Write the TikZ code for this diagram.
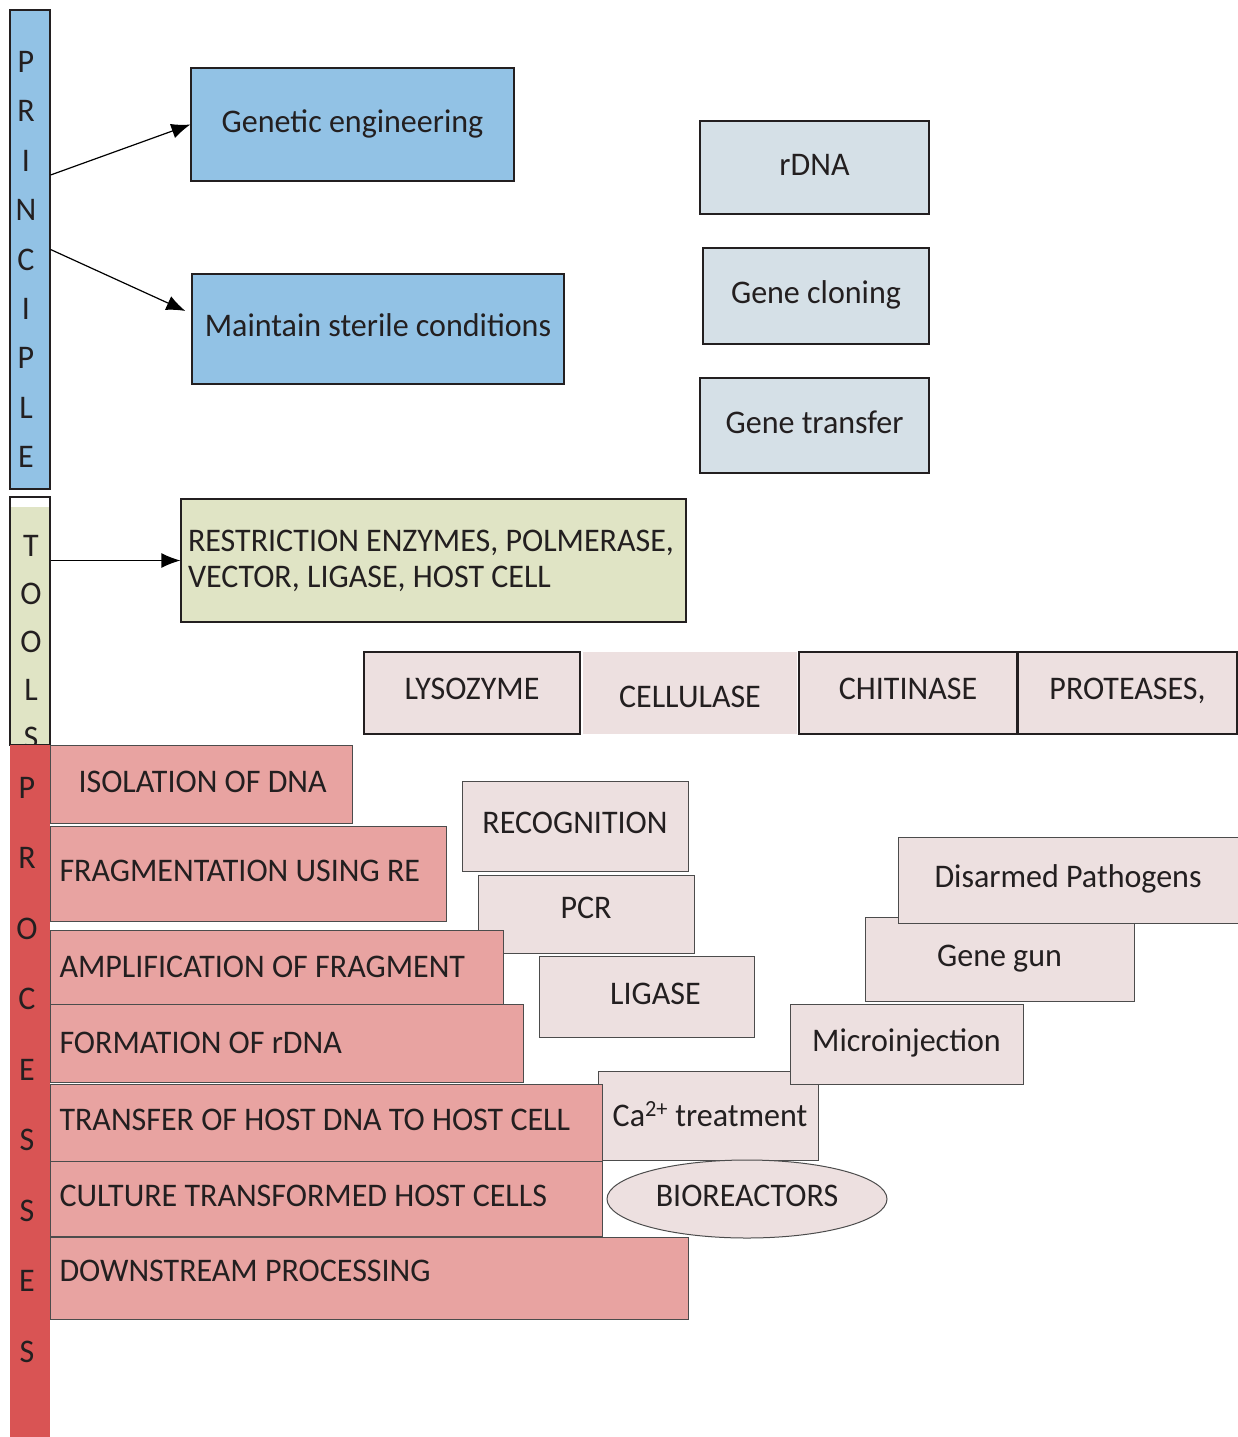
\documentclass[tikz,border=0pt]{standalone}
\usepackage{fontspec}
\setmainfont[FakeStretch=0.97]{Carlito}
\usetikzlibrary{arrows.meta,shapes.geometric}

\definecolor{princblue}{HTML}{92C2E5}
\definecolor{termgrey}{HTML}{D5E0E7}
\definecolor{toolgreen}{HTML}{E0E4C5}
\definecolor{enzpink}{HTML}{EDE0E0}
\definecolor{procsalmon}{HTML}{E8A3A1}
\definecolor{procred}{HTML}{D95454}
\definecolor{ink}{HTML}{231F20}

\newcommand\bodyfont{\fontsize{33}{36}\selectfont}
\newcommand\barfont[1]{\fontsize{33}{#1}\selectfont}

\begin{document}
\begin{tikzpicture}[
		x=1pt, y=-1pt,
		>={Latex[length=19pt,width=15pt]},
		every node/.append style={
			text=ink,
			font=\bodyfont,
			inner sep=0pt,
		},
		barlabel/.style={align=center},
		lifted/.style={text height=22pt, text depth=7pt},
		topbox/.style={lifted, draw=ink, line width=1.2pt, fill=princblue},
		termbox/.style={lifted, draw=ink, line width=1.2pt, fill=termgrey},
		enzbox/.style={text height=21pt, text depth=8pt, draw=ink, line width=1.6pt, fill=enzpink},
		methodbox/.style={lifted, draw=black!70, line width=1pt, fill=enzpink},
		procbox/.style={lifted, draw=black!70, line width=1pt, fill=procsalmon,
			anchor=north west, align=flush left, inner xsep=9pt},
	]
	\path[use as bounding box, fill=white] (0,0) rectangle (1238,1437);
	% the three side bars with their spelt-out titles
	\node[topbox, minimum width=40, minimum height=479] (principle) at (30,249.5) {};
	\node[barlabel, font=\barfont{49.4}] (principletxt) at (26,259.5) {P\\R\\I\\N\\C\\I\\P\\L\\E};
	\node[draw=ink, line width=1.2pt, fill=white, minimum width=40, minimum height=248,
		path picture={\fill[toolgreen] ([yshift=-10pt]path picture bounding box.north west)
			rectangle (path picture bounding box.south east);}] (tools) at (30,621) {};
	\node[barlabel, font=\barfont{48}] (toolstxt) at (31,642) {T\\O\\O\\L\\S};
	\node[fill=procred, minimum width=40, minimum height=692] (processes) at (30,1091) {};
	\node[barlabel, font=\barfont{70.5}] (processtxt) at (27,1070) {P\\R\\O\\C\\E\\S\\S\\E\\S};
	% principle
	\node[topbox, minimum width=323, minimum height=113] (genetic) at (352.5,124.5) {Genetic engineering};
	\node[topbox, minimum width=372, minimum height=110] (sterile) at (378,329) {Maintain sterile conditions};
	\node[termbox, minimum width=229, minimum height=93] (rdna) at (814.5,167.5) {rDNA};
	\node[termbox, minimum width=226, minimum height=96] (cloning) at (816,296) {Gene cloning};
	\node[termbox, minimum width=229, minimum height=95] (transfer) at (814.5,425.5) {Gene transfer};
	% tools
	\node[draw=ink, line width=1.2pt, fill=toolgreen, text width=491, inner xsep=7pt,
		minimum height=123, align=flush left] (toolkit) at (433.5,560.5)
		{RESTRICTION ENZYMES, POLMERASE,\\VECTOR, LIGASE, HOST CELL};
	\node[enzbox, minimum width=216, minimum height=82] (lysozyme) at (472,693) {LYSOZYME};
	\node[fill=enzpink, text height=29pt, text depth=0pt, minimum width=214, minimum height=82] (cellulase) at (690,693) {CELLULASE};
	\node[enzbox, minimum width=218, minimum height=82] (chitinase) at (908,693) {CHITINASE};
	\node[enzbox, minimum width=219, minimum height=82] (proteases) at (1127.5,693) {PROTEASES,};
	% methods used at each step
	\node[methodbox, minimum width=226, minimum height=90] (recognition) at (575,826) {RECOGNITION};
	\node[methodbox, text depth=13pt, minimum width=216, minimum height=78] (pcr) at (586,914) {PCR};
	\node[methodbox, minimum width=215, minimum height=81] (ligase) at (646.5,996.5) {\hspace*{18pt}LIGASE};
	\node[methodbox, text height=21pt, text depth=0pt, minimum width=220, minimum height=89] (calcium) at (708,1115.5) {\hspace*{4pt}Ca\textsuperscript{2+} treatment};
	\node[methodbox, ellipse, minimum width=280, minimum height=78] (bioreactors) at (747,1199) {BIOREACTORS};
	\node[methodbox, minimum width=269, minimum height=84] (genegun) at (999.5,959) {Gene gun};
	\node[methodbox, minimum width=340, minimum height=86] (pathogens) at (1068,880) {Disarmed Pathogens};
	\node[methodbox, minimum width=233, minimum height=80] (microinjection) at (906.5,1044) {Microinjection};
	% processes
	\node[procbox, text width=284, minimum height=78] (isolation) at (50,745) {\hspace*{19pt}ISOLATION OF DNA};
	\node[procbox, text width=378, minimum height=95] (fragmentation) at (50,826) {FRAGMENTATION USING RE};
	\node[procbox, text depth=2pt, text width=435, minimum height=74] (amplification) at (50,930) {AMPLIFICATION OF FRAGMENT};
	\node[procbox, text depth=2pt, text width=455, minimum height=78] (formation) at (50,1004) {FORMATION OF rDNA};
	\node[procbox, text width=534, minimum height=77] (hostdna) at (50,1084) {TRANSFER OF HOST DNA TO HOST CELL};
	\node[procbox, text width=534, minimum height=75] (culture) at (50,1161) {CULTURE TRANSFORMED HOST CELLS};
	\node[procbox, text depth=17pt, text width=620, minimum height=82] (downstream) at (50,1237) {DOWNSTREAM PROCESSING};
	% arrows out of the bars
	\draw[->, line width=1.2pt] ([yshift=74.5pt]principle.east) -- (genetic.west);
	\draw[->, line width=1.2pt] (principle.east) -- ([xshift=-6pt,yshift=18pt]sterile.west);
	\draw[->, line width=1.2pt] (toolkit.west -| tools.east) -- (toolkit.west);
\end{tikzpicture}
\end{document}
